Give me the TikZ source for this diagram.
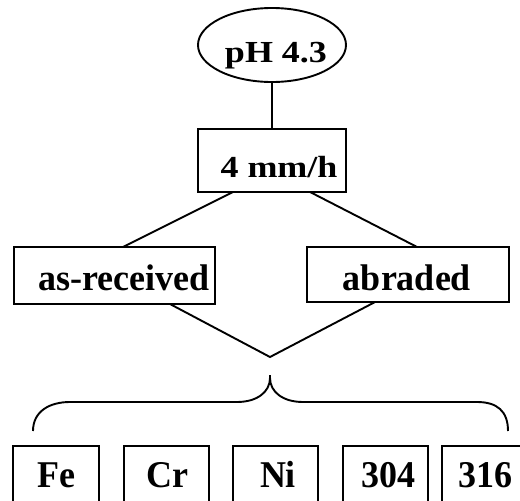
\documentclass[tikz,border=0pt]{standalone}
\usepackage{fontspec}
\setmainfont{Liberation Serif}
\usepackage{graphicx}
\usetikzlibrary{shapes.geometric,calc}
\newcommand{\lbl}[3]{\makebox[0pt]{\hspace{#1pt}\scalebox{1}[#2]{#3}}}
\tikzset{
  ln/.style={line width=1.9pt, line join=miter},
  boxnode/.style={draw, line width=1.9pt, rectangle, inner sep=0pt, outer sep=0pt,
    font=\fontsize{36}{40}\selectfont\bfseries, text depth=0pt},
  ellnode/.style={draw, line width=1.9pt, ellipse, inner sep=0pt, outer sep=0pt,
    font=\fontsize{36}{40}\selectfont\bfseries, text depth=0pt},
}
\begin{document}
\begin{tikzpicture}[x=1pt, y=-1pt]
\useasboundingbox (0,0) rectangle (520,501);
\node[ellnode, minimum width=148pt, minimum height=74pt, text height=34pt] (ph) at (272,45) {\lbl{8}{0.85}{pH 4.3}};
\node[boxnode, minimum width=148pt, minimum height=63pt, text height=33pt] (rate) at (272,160.5) {\lbl{14}{0.85}{4 mm/h}};
\node[boxnode, minimum width=201pt, minimum height=57pt, text height=29pt] (asr) at (114.5,275.5) {\lbl{19}{1.03}{as-received}};
\node[boxnode, minimum width=202pt, minimum height=55pt, text height=31pt] (abr) at (408,274.5) {\lbl{-2}{1.03}{abraded}};
\node[boxnode, minimum width=86pt, minimum height=70pt, text height=12pt] (fe) at (56,481) {\lbl{1}{1.05}{Fe}};
\node[boxnode, minimum width=85pt, minimum height=70pt, text height=12pt] (cr) at (166.5,481) {\lbl{1}{1.05}{Cr}};
\node[boxnode, minimum width=85pt, minimum height=70pt, text height=12pt] (ni) at (275.5,481) {\lbl{5}{1.05}{Ni}};
\node[boxnode, minimum width=85pt, minimum height=70pt, text height=12pt] (s304) at (385.5,481) {\lbl{5}{1.05}{304}};
\node[boxnode, minimum width=85pt, minimum height=70pt, text height=12pt] (s316) at (484.5,481) {\lbl{1}{1.05}{316}};
\coordinate (vtip) at (270,357);
\coordinate (btip) at (270,375);
\coordinate (bl) at (33,431);
\coordinate (br) at (508,431);
\draw[ln] (ph.south) -- (rate.north);
\draw[ln] ($(rate.south west)!0.236!(rate.south east)$) -- ($(asr.north west)!0.542!(asr.north east)$);
\draw[ln] ($(rate.south west)!0.757!(rate.south east)$) -- ($(abr.north west)!0.545!(abr.north east)$);
\draw[ln] ($(asr.south west)!0.776!(asr.south east)$) -- (vtip) -- ($(abr.south west)!0.337!(abr.south east)$);
\draw[ln] (bl) .. controls (33,411) and (50,402) .. (70,402) -- (237,402)
  .. controls (257,402) and (270,392) .. (270,378) -- (btip);
\draw[ln] (btip) -- (270,378) .. controls (270,392) and (283,402) .. (303,402) -- (477,402)
  .. controls (497,402) and (508,411) .. (br);
\end{tikzpicture}
\end{document}
